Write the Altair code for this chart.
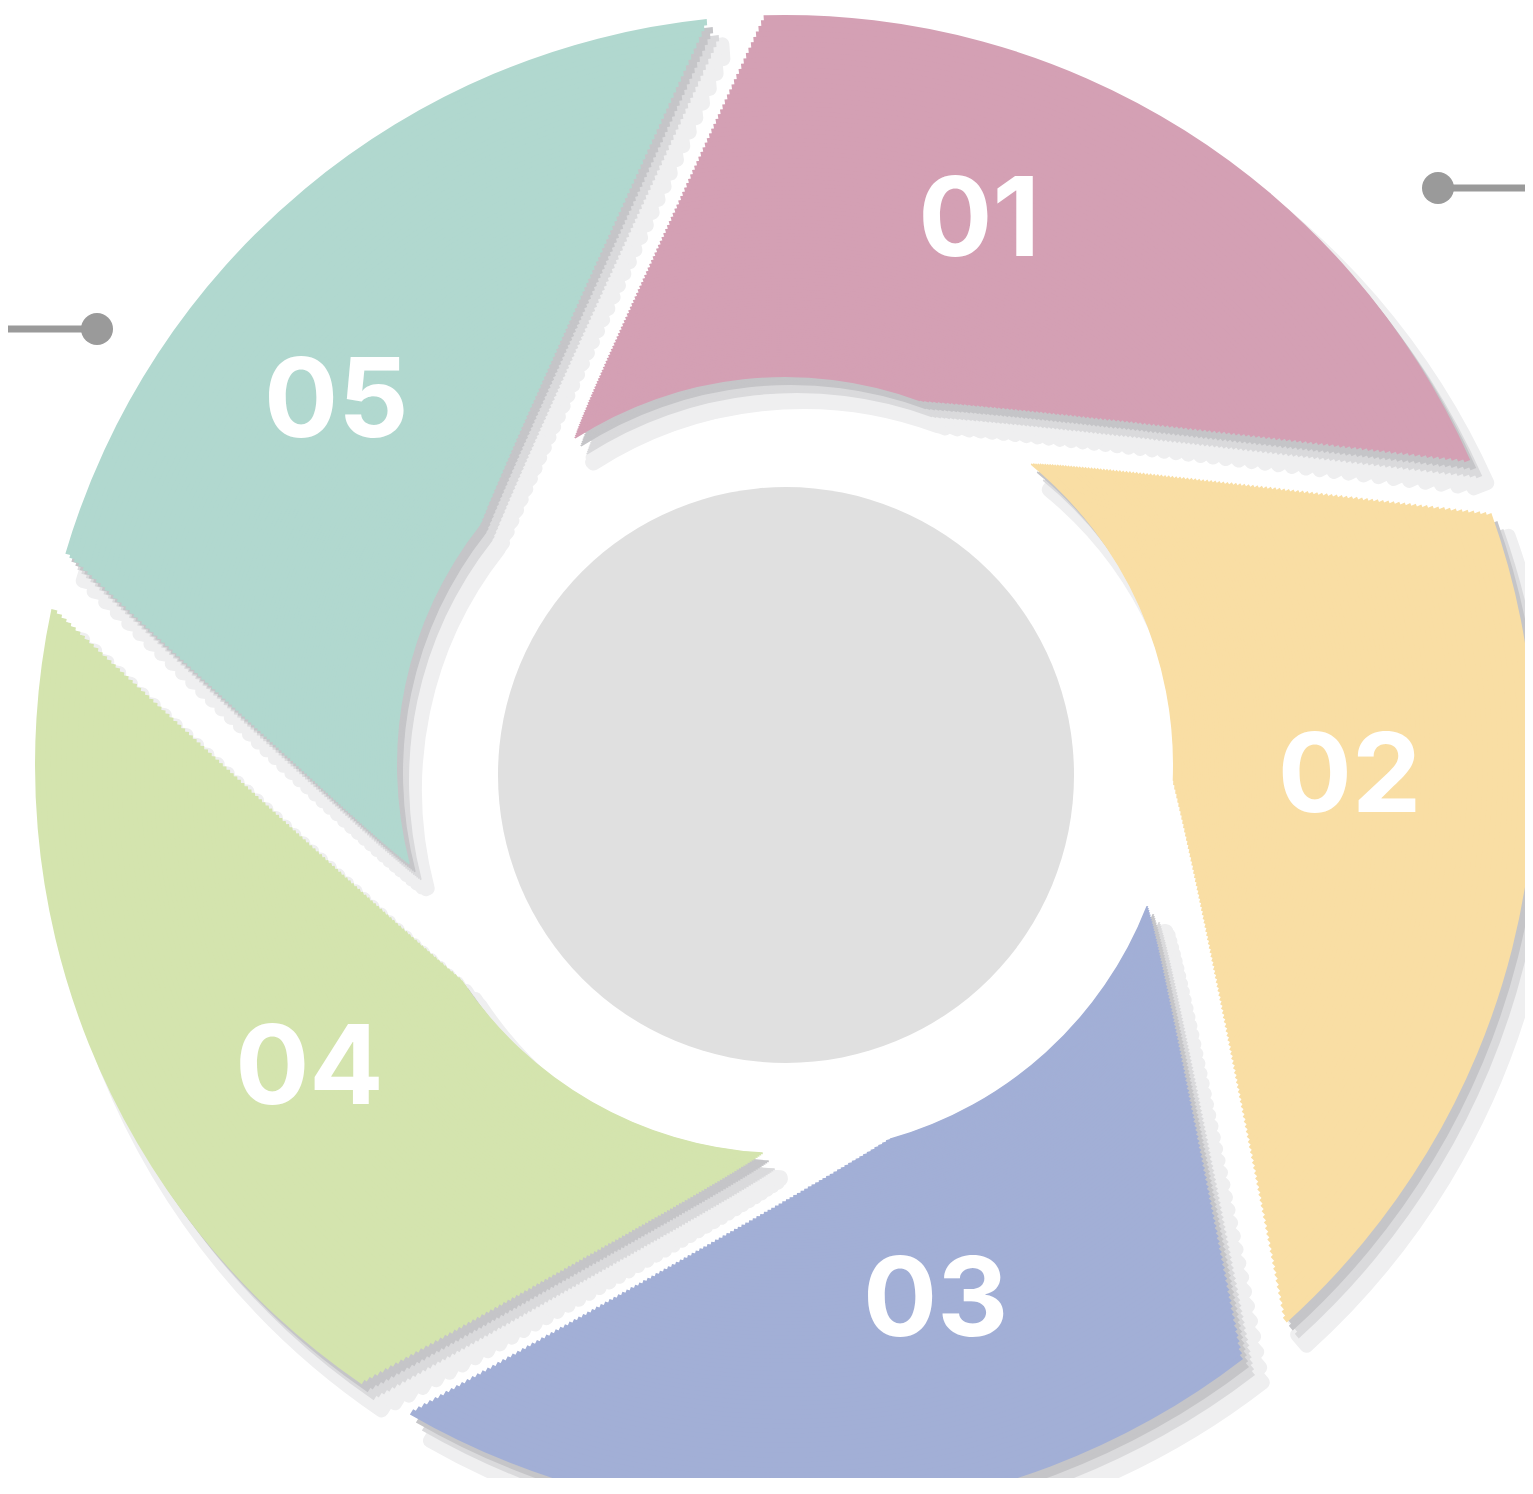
import math
import numpy as np
import pandas as pd
import altair as alt

# ---------------- data ----------------
steps = ["01", "02", "03", "04", "05"]
shares = [1, 1, 1, 1, 1]
blade_colors = ["#d4a0b4", "#f9dea4", "#a2afd6", "#d4e4ae", "#b1d8cf"]

table = pd.DataFrame({"step": steps, "share": shares, "order": list(range(len(steps)))})
one = pd.DataFrame({"k": [0]})

# ---------------- layout / style ----------------
W, H = 1517, 1470
CX, CY = 777, 757            # centre of the blade ring (chart px)
R_OUT, R_IN = 750.0, 388.0   # outer / inner radius of the blades
TWIST = math.radians(38.7)   # how far the inner end of each gap is turned back
A0 = math.radians(-3.7)      # angle of the first gap at the outer rim
GAP = 50.0                   # gap width between blades (px)

P_OUT = np.array([0.0, R_OUT])
P_IN = R_IN * np.array([math.sin(-TWIST), math.cos(TWIST)])
DIR = P_IN - P_OUT


def gap_line(r):
    """angle of the straight gap line at radius r, and cos of its slant."""
    a = DIR @ DIR
    b = 2 * (P_OUT @ DIR)
    c = P_OUT @ P_OUT - r * r
    disc = max(b * b - 4 * a * c, 0.0)
    t = (-b - math.sqrt(disc)) / (2 * a)
    p = P_OUT + t * DIR
    ang = math.atan2(p[0], p[1])
    cs = abs(DIR @ p) / (np.linalg.norm(DIR) * np.linalg.norm(p))
    return ang, max(cs, 0.05)


def rings(step, dr_min, dr_max):
    edges = [R_OUT]
    r = R_OUT
    while r > R_IN + 1e-6:
        _, cs = gap_line(r)
        tan_s = math.sqrt(max(1 - cs * cs, 0)) / cs
        dr = min(dr_max, max(dr_min, step / max(tan_s, 1e-3)))
        r = max(R_IN, r - dr)
        edges.append(r)
    out = []
    for j, (ro, ri) in enumerate(zip(edges[:-1], edges[1:])):
        ang, cs = gap_line((ro + ri) / 2)
        wt = GAP / cs
        rp = math.sqrt(ro * ro + ri * ri)
        pad = 2 * math.asin(min(0.99, wt / (2 * rp)))
        r_o = ro + (0.6 if j > 0 else 0.0)
        r_i = ri - 0.6 if ri > R_IN + 0.5 else ri
        out.append((r_o, r_i, A0 + ang, pad))
    return out


def theta(start):
    return alt.Theta(
        "share:Q",
        stack=True,
        scale=alt.Scale(domain=[0, sum(shares)], range=[start, start + 2 * math.pi]),
    )


fine = rings(3.0, 1.1, 7.0)
coarse = rings(8.0, 2.5, 14.0)

layers = []

# soft drop shadow: offset copies, lightest/farthest first
shadow_copies = [
    ((18, 25), "#efeff0", 14, coarse),
    ((12, 16), "#dadadc", 0, fine),
    ((6, 8), "#c5c5c8", 0, fine),
]
for (dx, dy), col, sw, ringset in shadow_copies:
    for ro, ri, start, pad in ringset:
        props = dict(radius=ro, radius2=ri, padAngle=pad, fill=col)
        if sw:
            props.update(stroke=col, strokeWidth=sw, strokeJoin="round")
        layers.append(
            alt.Chart(table)
            .mark_arc(**props)
            .encode(theta=theta(start), order=alt.Order("order:Q"),
                    x=alt.value(CX + dx), y=alt.value(CY + dy))
        )

# blades
color_enc = alt.Color("step:N", scale=alt.Scale(domain=steps, range=blade_colors), legend=None)
for ro, ri, start, pad in fine:
    layers.append(
        alt.Chart(table)
        .mark_arc(radius=ro, radius2=ri, padAngle=pad)
        .encode(theta=theta(start), color=color_enc, order=alt.Order("order:Q"),
                x=alt.value(CX), y=alt.value(CY))
    )

# centre disc (size = bounding-box area)
layers.append(
    alt.Chart(one)
    .mark_circle(size=(2 * 288) ** 2, color="#e0e0e0", opacity=1)
    .encode(x=alt.value(778), y=alt.value(767))
)

# step labels
layers.append(
    alt.Chart(table)
    .mark_text(radius=568, font="Inter", fontSize=110, fontWeight="bold", dy=6,
               color="white", align="center", baseline="middle")
    .encode(theta=theta(math.radians(-15.7)), text="step:N", order=alt.Order("order:Q"),
            x=alt.value(774), y=alt.value(742))
)

# connector lines with dots
LINE_COL = "#9a9a9a"
layers.append(
    alt.Chart(one).mark_rule(color=LINE_COL, strokeWidth=7)
    .encode(x=alt.value(1430), x2=alt.value(W + 10), y=alt.value(180))
)
layers.append(
    alt.Chart(one).mark_rule(color=LINE_COL, strokeWidth=7)
    .encode(x=alt.value(-10), x2=alt.value(89), y=alt.value(321))
)
for px, py in [(1430, 180), (89, 321)]:
    layers.append(
        alt.Chart(one)
        .mark_circle(size=32 ** 2, color=LINE_COL, opacity=1)
        .encode(x=alt.value(px), y=alt.value(py))
    )

chart = (
    alt.layer(*layers)
    .resolve_scale(theta="independent")
    .properties(width=W, height=H, padding=0, background="white",
                autosize=alt.AutoSizeParams(type="none"))
    .configure_view(stroke=None)
)

chart.save("out.html", embed_options={"renderer": "svg", "actions": False})
